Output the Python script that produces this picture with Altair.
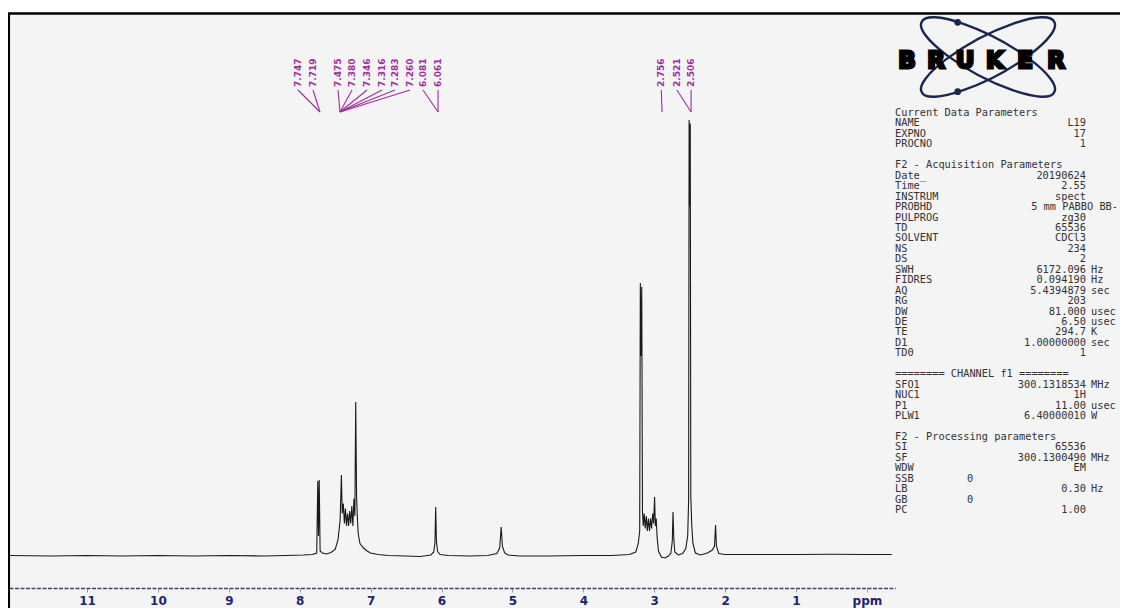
import altair as alt
import pandas as pd

# ---------------- spectrum (ppm, intensity) ----------------
spec_ppm = [12.10, 11.50, 11.00, 10.50, 10.00, 9.50, 9.00, 8.50, 8.20, 7.95, 7.82, 7.76,
            7.745, 7.735, 7.725, 7.712, 7.68, 7.62, 7.56, 7.50, 7.46, 7.43, 7.412, 7.40,
            7.385, 7.37, 7.355, 7.34, 7.325, 7.31, 7.295, 7.28, 7.265, 7.25, 7.235, 7.222,
            7.21, 7.198, 7.188, 7.175, 7.15, 7.10, 7.05, 7.00, 6.90, 6.75, 6.50, 6.30,
            6.15, 6.11, 6.093, 6.082, 6.072, 6.055, 6.02, 5.90, 5.60, 5.35, 5.22, 5.18,
            5.158, 5.142, 5.11, 5.06, 4.90, 4.50, 4.00, 3.60, 3.35, 3.26, 3.225, 3.205,
            3.196, 3.186, 3.176, 3.166, 3.155, 3.142, 3.127, 3.112, 3.097, 3.082, 3.067,
            3.052, 3.037, 3.022, 3.008, 2.995, 2.984, 2.972, 2.958, 2.94, 2.90, 2.85,
            2.80, 2.765, 2.745, 2.735, 2.724, 2.71, 2.66, 2.60, 2.555, 2.528, 2.515,
            2.508, 2.500, 2.492, 2.484, 2.47, 2.455, 2.42, 2.35, 2.25, 2.18, 2.15,
            2.135, 2.123, 2.09, 2.00, 1.50, 1.00, 0.50, 0.00, -0.35]
spec_int = [0.1, 0.0, 0.1, 0.0, 0.1, 0.0, 0.1, 0.0, 0.1, 0.2, 0.3, 0.6,
            15.0, 4.0, 15.2, 1.0, 0.6, 0.4, 0.7, 1.3, 3.2, 7.2, 16.2, 8.5,
            10.5, 6.5, 9.5, 6.0, 8.5, 6.0, 9.0, 6.5, 10.0, 6.0, 11.5, 8.0,
            30.8, 12.0, 8.0, 4.5, 2.5, 1.6, 1.0, 0.6, 0.3, 0.1, 0.0, -0.1,
            0.2, 0.8, 2.5, 9.8, 3.0, 0.9, 0.3, 0.1, 0.0, 0.1, 0.5, 1.6,
            5.8, 2.0, 0.6, 0.2, 0.0, 0.0, 0.1, 0.1, 0.3, 0.8, 2.5, 5.0,
            54.6, 40.0, 53.8, 9.0, 6.0, 8.5, 5.5, 8.0, 5.0, 7.5, 5.0,
            7.5, 5.5, 8.5, 6.5, 11.8, 6.0, 7.5, 3.5, 1.0, -0.2, -0.4,
            0.0, 0.6, 3.0, 8.8, 3.5, 0.8, 0.2, 0.5, 1.5, 4.0, 11.0,
            87.2, 70.0, 86.5, 11.8, 6.0, 2.6, 0.6, 0.2, 0.6, 1.2, 2.0,
            6.2, 2.0, 0.5, 0.3, 0.3, 0.3, 0.35, 0.3, 0.3]

# ---------------- peak labels ----------------
peak_text = ["7.747", "7.719", "7.475", "7.380", "7.346", "7.316", "7.283", "7.260",
             "6.081", "6.061", "2.756", "2.521", "2.506"]
peak_target = [7.714, 7.714, 7.432, 7.432, 7.432, 7.432, 7.432, 7.432,
               6.049, 6.049, 2.89, 2.48, 2.48]
# layout: where the label columns sit (ppm units along the axis)
label_col = [8.024, 7.812, 7.460, 7.262, 7.051, 6.839, 6.656, 6.444,
             6.261, 6.049, 2.90, 2.68, 2.48]

# ---------------- parameter panel ----------------
param_name = ["Current Data Parameters", "NAME", "EXPNO", "PROCNO", "",
              "F2 - Acquisition Parameters", "Date_", "Time", "INSTRUM", "PROBHD",
              "PULPROG", "TD", "SOLVENT", "NS", "DS", "SWH", "FIDRES", "AQ", "RG",
              "DW", "DE", "TE", "D1", "TD0", "",
              "======== CHANNEL f1 ========", "SFO1", "NUC1", "P1", "PLW1", "",
              "F2 - Processing parameters", "SI", "SF", "WDW", "SSB", "LB", "GB", "PC"]
param_value = ["", "L19", "17", "1", "",
               "", "20190624", "2.55", "spect", "5 mm PABBO BB-",
               "zg30", "65536", "CDCl3", "234", "2", "6172.096", "0.094190", "5.4394879", "203",
               "81.000", "6.50", "294.7", "1.00000000", "1", "",
               "", "300.1318534", "1H", "11.00", "6.40000010", "",
               "", "65536", "300.1300490", "EM", "0", "0.30", "0", "1.00"]
param_unit = ["", "", "", "", "",
              "", "", "", "", "",
              "", "", "", "", "", "Hz", "Hz", "sec", "",
              "usec", "usec", "K", "sec", "", "",
              "", "MHz", "", "usec", "W", "",
              "", "", "MHz", "", "", "Hz", "", ""]
# layout: column style of each value ("n" right-aligned, "w" wide, "m" middle)
param_kind = ["n"] * len(param_name)
param_kind[9] = "w"
param_kind[35] = "m"
param_kind[37] = "m"

logo_letters = ["B", "R", "U", "K", "E", "R"]
logo_x = [899, 928, 957, 987, 1017, 1048]

# ---------------- chart ----------------
W, H = 1112, 580
x_scale = alt.Scale(domain=[12.1, -0.4], range=[1, 887.3], nice=False, zero=False)
y_scale = alt.Scale(domain=[0, 100], range=[548, 48], nice=False, zero=False)

x_axis = alt.Axis(values=list(range(0, 12)), format="d",
                  labelExpr="datum.value == 0 ? 'ppm' : datum.label",
                  labelFont="DejaVu Sans", labelFontWeight="bold", labelFontSize=12,
                  labelColor="#1c2470", tickColor="#9a9a9a", tickSize=4, tickWidth=1,
                  domainColor="#3a4080", domainWidth=1.6, domainDash=[4, 1.5],
                  labelPadding=3, grid=False, title=None, zindex=1,
                  labelFlush=False, labelOverlap=False)

one = pd.DataFrame({"k": [0]})

frame = alt.Chart(one).mark_rect(fill="#f4f4f4", stroke="#000000", strokeWidth=2.7).encode(
    x=alt.value(0.7), x2=alt.value(1300), y=alt.value(5.5), y2=alt.value(800))

spec_df = pd.DataFrame({"ppm": spec_ppm, "inten": spec_int, "i": list(range(len(spec_ppm)))})
spectrum = alt.Chart(spec_df).mark_line(color="#1a1a1a", strokeWidth=1.1).encode(
    x=alt.X("ppm:Q", scale=x_scale, axis=x_axis),
    y=alt.Y("inten:Q", scale=y_scale, axis=None),
    order=alt.Order("i:Q"))

lab_df = pd.DataFrame({"lx": label_col, "tx": peak_target, "text": peak_text})
rules = alt.Chart(lab_df).mark_rule(color="#a02ca0", strokeWidth=1.1).encode(
    x=alt.X("lx:Q", scale=x_scale), x2="tx:Q", y=alt.value(82), y2=alt.value(104))
labels = alt.Chart(lab_df).mark_text(angle=270, align="left", baseline="middle",
                                     font="DejaVu Sans", fontSize=9, fontWeight="bold",
                                     color="#a02ca0").encode(
    x=alt.X("lx:Q", scale=x_scale), y=alt.value(79), text="text:N")

pdf = pd.DataFrame({"name": param_name, "value": param_value, "unit": param_unit,
                    "kind": param_kind, "row": list(range(len(param_name)))})
pdf["ypx"] = 105 + pdf["row"] * 10.45
txt = dict(font="DejaVu Sans Mono", fontSize=10.3, color="#333333", baseline="middle")
names = alt.Chart(pdf[pdf["name"] != ""]).mark_text(align="left", **txt).encode(
    x=alt.value(887), y=alt.Y("ypx:Q", scale=None, axis=None), text="name:N")
vals_n = alt.Chart(pdf[(pdf["value"] != "") & (pdf["kind"] == "n")]).mark_text(align="right", **txt).encode(
    x=alt.value(1078), y=alt.Y("ypx:Q", scale=None, axis=None), text="value:N")
vals_w = alt.Chart(pdf[pdf["kind"] == "w"]).mark_text(align="right", **txt).encode(
    x=alt.value(1110), y=alt.Y("ypx:Q", scale=None, axis=None), text="value:N")
vals_m = alt.Chart(pdf[pdf["kind"] == "m"]).mark_text(align="center", **txt).encode(
    x=alt.value(962), y=alt.Y("ypx:Q", scale=None, axis=None), text="value:N")
units = alt.Chart(pdf[pdf["unit"] != ""]).mark_text(align="left", **txt).encode(
    x=alt.value(1083), y=alt.Y("ypx:Q", scale=None, axis=None), text="unit:N")

orbit_path = ("M -0.883 -0.469 A 1 0.267 28 1 1 0.883 0.469 A 1 0.267 28 1 1 -0.883 -0.469 Z "
              "M 0.883 -0.469 A 1 0.267 -28 1 1 -0.883 0.469 A 1 0.267 -28 1 1 0.883 -0.469 Z")
orbits = alt.Chart(one).mark_point(shape=orbit_path, filled=False, stroke="#1b2550",
                                   strokeWidth=2.4, size=22500, opacity=1).encode(
    x=alt.value(980), y=alt.value(49))
dots = alt.Chart(pd.DataFrame({"dx": [949.7, 949.7], "dy": [14.3, 83.7]})).mark_point(
    filled=True, color="#1b2550", size=45, opacity=1).encode(
    x=alt.X("dx:Q", scale=None), y=alt.Y("dy:Q", scale=None))
let_df = pd.DataFrame({"ch": logo_letters, "lxp": logo_x})
letters = alt.Chart(let_df).mark_text(
    font="DejaVu Sans", fontSize=23, fontWeight="bold", color="#000000",
    stroke="#000000", strokeWidth=2.8, strokeJoin="miter", baseline="alphabetic",
    align="center").encode(
    x=alt.X("lxp:Q", scale=None), y=alt.value(60), text="ch:N")

chart = alt.layer(frame, spectrum, rules, labels, names, vals_n, vals_w, vals_m, units,
                  orbits, dots, letters).properties(
    width=W, height=H, background="#ffffff",
    autosize=alt.AutoSizeParams(type="none"),
    padding={"left": 0, "top": 0, "right": 0, "bottom": 20}
).configure_view(stroke=None)

chart.save("out.html", embed_options={"renderer": "svg", "actions": False})
